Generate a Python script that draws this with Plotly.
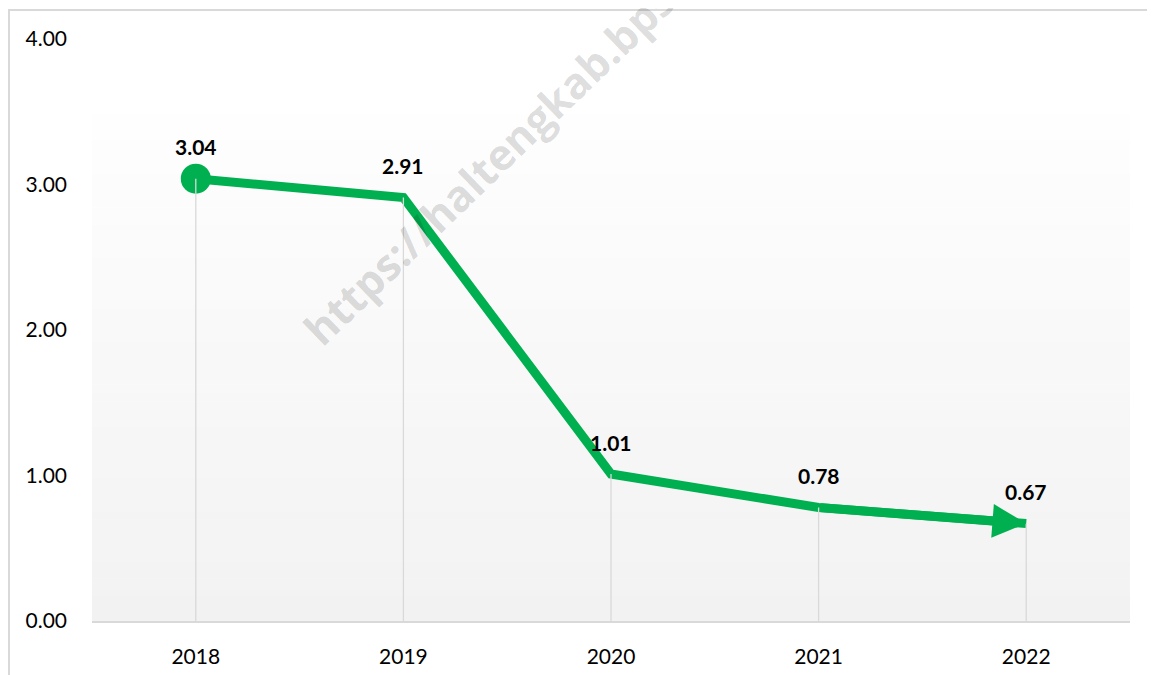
import plotly.graph_objects as go

years = ["2018", "2019", "2020", "2021", "2022"]
values = [3.04, 2.91, 1.01, 0.78, 0.67]
y_ticks = [0, 1, 2, 3, 4]
watermark = "https://haltengkab.bps.go.id"

GREEN = "#00B050"
GRAY = "#D9D9D9"
FONT = "Lato"

# page body has an 8px margin; figure is sized/positioned to compensate
OFF = 8
W, H = 1155 - OFF, 675 - OFF
ML, MR, MT, MB = 84, 25, 31, 54
PW, PH = W - ML - MR, H - MT - MB


def px_x(px):
    """page pixel x -> paper coord"""
    return (px - OFF - ML) / PW


def px_y(py):
    """page pixel y -> paper coord"""
    return (H - MB - (py - OFF)) / PH


xs = list(range(len(years)))

fig = go.Figure()

# main line
fig.add_trace(go.Scatter(
    x=xs, y=values, mode="lines",
    line=dict(color=GREEN, width=9),
    hoverinfo="skip", showlegend=False,
))
# start marker
fig.add_trace(go.Scatter(
    x=xs[:1], y=values[:1], mode="markers",
    marker=dict(color=GREEN, size=30, line=dict(width=0)),
    hoverinfo="skip", showlegend=False,
))
# drop lines
for xi, v in zip(xs, values):
    fig.add_trace(go.Scatter(
        x=[xi, xi], y=[0, v], mode="lines",
        line=dict(color=GRAY, width=1.3),
        hoverinfo="skip", showlegend=False,
    ))

shapes = []
# gradient background band
n = 60
top_p = px_y(115)
c_top = (254, 254, 254)
c_bot = (242, 242, 242)
for i in range(n):
    t0 = i / n
    t1 = (i + 1) / n
    tm = (t0 + t1) / 2
    c = tuple(round(c_bot[k] + (c_top[k] - c_bot[k]) * tm) for k in range(3))
    shapes.append(dict(
        type="rect", xref="paper", yref="paper",
        x0=0, x1=1, y0=top_p * t0, y1=top_p * t1 + 0.001,
        fillcolor="rgb(%d,%d,%d)" % c, line=dict(width=0), layer="below",
    ))
# chart border
shapes.append(dict(
    type="rect", xref="paper", yref="paper",
    x0=px_x(9), x1=px_x(1170), y0=px_y(690), y1=px_y(10),
    line=dict(color=GRAY, width=2), fillcolor="rgba(0,0,0,0)", layer="above",
))

annotations = []
for xi, v in zip(xs, values):
    annotations.append(dict(
        x=xi, y=v, xref="x", yref="y", text="<b>%.2f</b>" % v,
        showarrow=False, yshift=32,
        font=dict(family=FONT, size=21, color="black"),
    ))
# end arrow
annotations.append(dict(
    x=xs[-1], y=values[-1], ax=xs[-2], ay=values[-2],
    xref="x", yref="y", axref="x", ayref="y", text="",
    showarrow=True, arrowhead=2, arrowsize=0.75, arrowwidth=9,
    arrowcolor=GREEN, standoff=0,
))
# watermark
annotations.append(dict(
    x=px_x(530), y=px_y(124), xref="paper", yref="paper",
    xanchor="center", yanchor="middle",
    text="<b>%s</b>" % watermark, showarrow=False, textangle=-44,
    font=dict(family="Open Sans", size=43, color="rgba(0,0,0,0.15)"),
))

fig.update_layout(
    width=W, height=H,
    margin=dict(l=ML, r=MR, t=MT, b=MB, autoexpand=False),
    paper_bgcolor="white", plot_bgcolor="rgba(0,0,0,0)",
    shapes=shapes, annotations=annotations,
    font=dict(family=FONT, size=21, color="black"),
    xaxis=dict(
        range=[-0.5, len(years) - 0.5], tickvals=xs, ticktext=years,
        showgrid=False, zeroline=False, showline=True, linecolor=GRAY,
        linewidth=1.5, ticks="", ticklabelstandoff=16, fixedrange=True,
        automargin=False,
    ),
    yaxis=dict(
        range=[0, 4], tickvals=y_ticks, tickformat=".2f",
        showgrid=False, zeroline=False, showline=False, ticks="",
        ticklabelstandoff=24, fixedrange=True, automargin=False,
    ),
    showlegend=False,
)

fig.write_html("out.html")
